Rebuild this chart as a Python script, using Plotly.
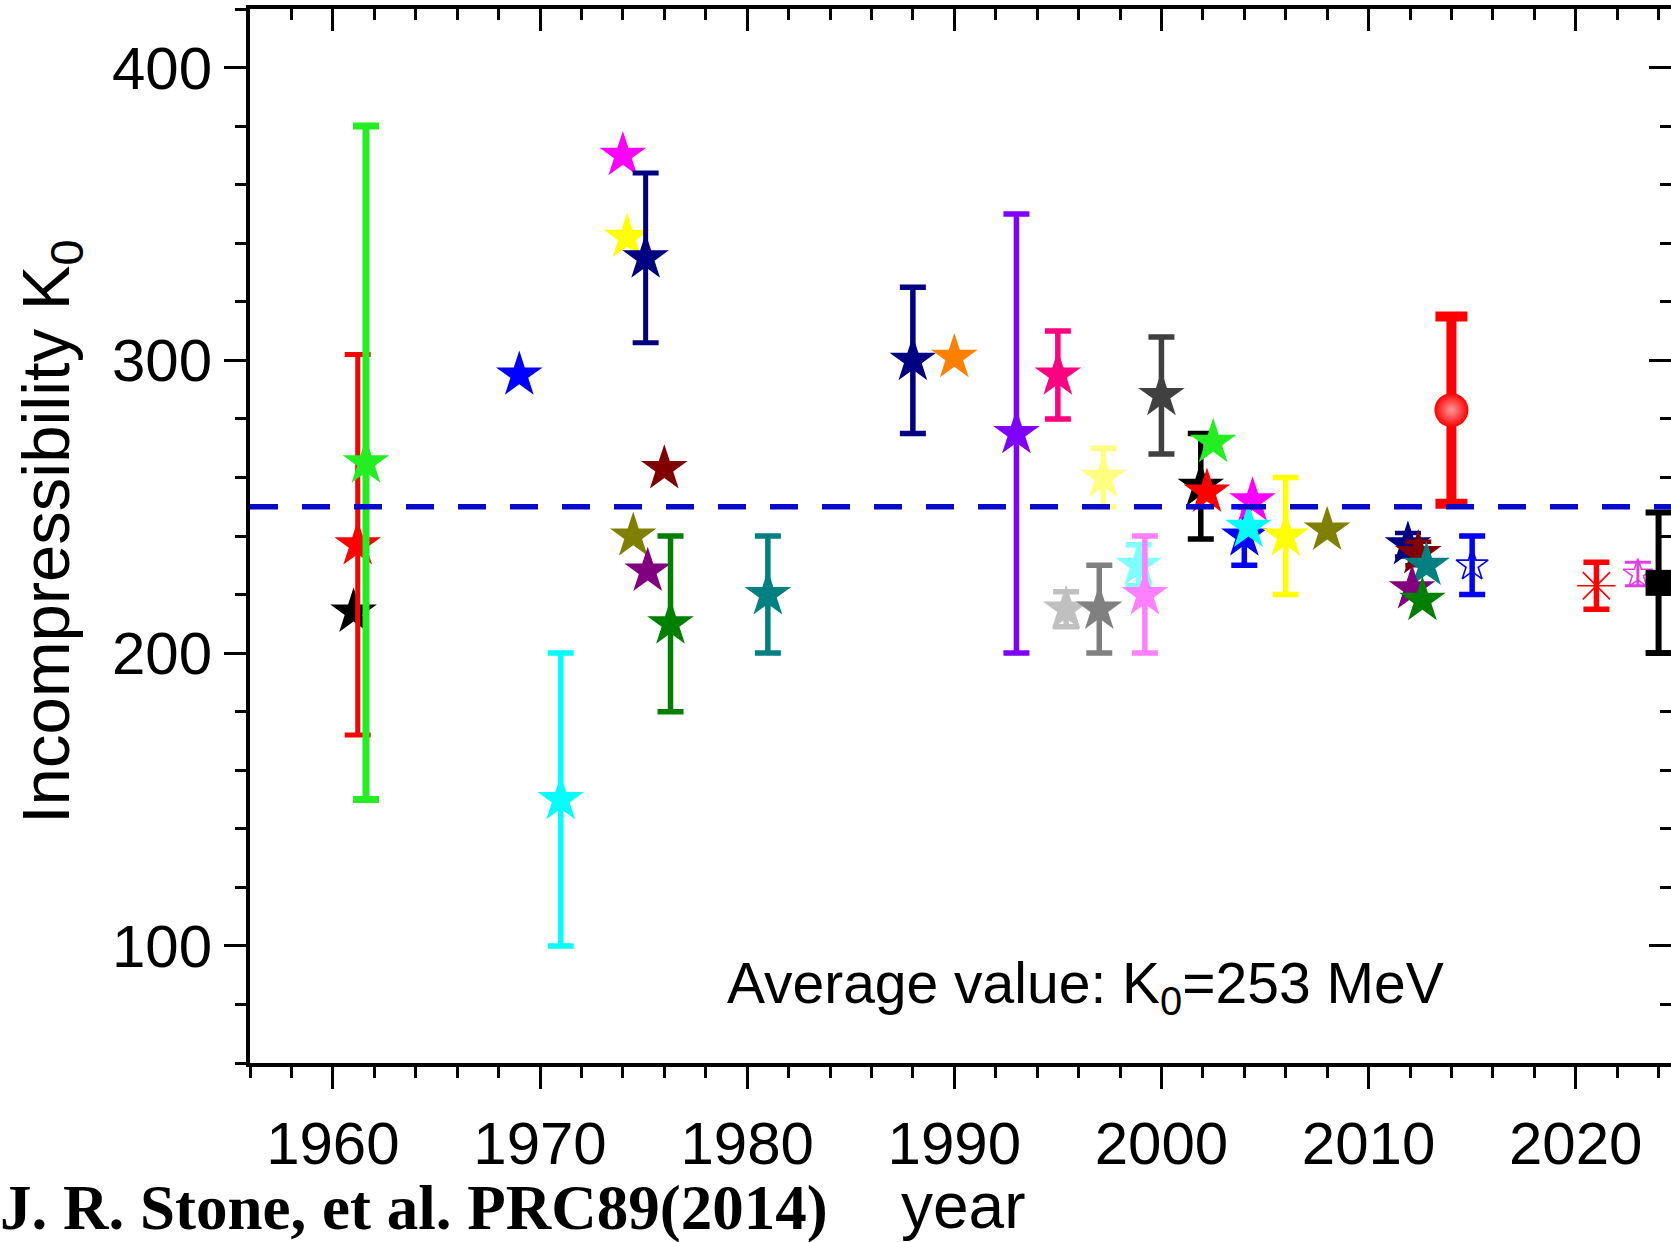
import plotly.graph_objects as go

# ---------------- data ----------------
YEARS = [1961.0, 1961.2, 1961.6, 1969.0, 1971.0, 1974.0, 1974.2, 1975.1, 1974.5, 1975.2,
         1976.0, 1976.3, 1981.0, 1988.0, 1990.0, 1993.0, 1995.0, 1997.2, 2000.0, 1995.4,
         1997.0, 1998.9, 1999.2, 2001.9, 2002.2, 2002.5, 2004.0, 2004.4, 2004.2, 2006.0,
         2008.0, 2011.9, 2012.4, 2012.8, 2012.1, 2012.6, 2014.0, 2015.0, 2021.0, 2023.0,
         2024.0]
K0 = [214, 237, 265, 295, 150, 370, 342, 335, 240, 228,
      263, 210, 220, 300, 301, 275, 295, 260, 288, 215,
      215, 230, 220, 257, 255, 272, 240, 252, 243, 240,
      242, 237, 234, 230, 222, 218, 283, 230, 223, 227,
      224]
K0_ERR = [0, 65, 115, 0, 50, 0, 0, 29, 0, 0,
          0, 30, 20, 25, 0, 75, 15, 10, 20, 6,
          15, 7, 20, 18, 0, 0, 10, 0, 0, 20,
          0, 4, 4, 0, 0, 0, 32, 10, 8, 4,
          24]
AVG_LINE_K0 = 250
AVG_LABEL = "Average value: K<sub>0</sub>=253 MeV"
X_TICKS = [1960, 1970, 1980, 1990, 2000, 2010, 2020]
Y_TICKS = [100, 200, 300, 400]
X_RANGE = [1956, 2024.6]
Y_RANGE = [60, 420]

# ---------------- styles (one per point): colour, symbol, size, bar thickness ----------------
STAR = "star"
S = 35
STYLES = [
    ("#000000", STAR, S, 5), ("#FF0000", STAR, S, 5), ("#22EE22", STAR, S, 7),
    ("#0000FF", STAR, S, 5), ("#00FFFF", STAR, S, 5.5), ("#FF00FF", STAR, S, 5),
    ("#FFFF00", STAR, S, 5), ("#000080", STAR, S, 5), ("#808000", STAR, S, 5),
    ("#800080", STAR, S, 5), ("#800000", STAR, S, 5), ("#008000", STAR, S, 5.5),
    ("#008080", STAR, S, 5.5), ("#000080", STAR, S, 5.5), ("#FF8000", STAR, S, 5),
    ("#8000FF", STAR, S, 5.5), ("#FF0080", STAR, S, 5.5), ("#FFFF80", STAR, S, 5.5),
    ("#404040", STAR, S, 5.5), ("#C0C0C0", STAR, S, 5.5), ("#808080", STAR, S, 5.5),
    ("#80FFFF", STAR, S, 5.5), ("#FF80FF", STAR, S, 5.5), ("#000000", STAR, S, 5.5),
    ("#FF0000", STAR, S, 5), ("#22EE22", STAR, S, 5), ("#0000FF", STAR, S, 5.5),
    ("#FF00FF", STAR, S, 5), ("#00FFFF", STAR, S, 5), ("#FFFF00", STAR, S, 5.5),
    ("#808000", STAR, S, 5), ("#000080", STAR, S, 4.5), ("#800000", STAR, S, 4.5),
    ("#008080", STAR, S, 5), ("#800080", STAR, S, 5), ("#008000", STAR, S, 5),
    ("#FF0000", "circle", 34, 10), ("#0000FF", "star-open", 24, 5.5), ("#FF0000", "asterisk-open", 32, 5.5),
    ("#E040E0", "star-open", 22, 3), ("#000000", "square", 26, 6),
]

W, H = 1671, 1242
PL, PT, PB = 250, 9, 1063
PR = W


def px(xp):
    return (xp - PL) / (PR - PL)


def py(yp):
    return (PB - yp) / (PB - PT)


fig = go.Figure()

for xv, yv, ev, (col, sym, size, bw) in zip(YEARS, K0, K0_ERR, STYLES):
    marker = dict(color=col, symbol=sym, size=size, line=dict(width=0))
    if sym.endswith("open"):
        marker["line"] = dict(width=1.6, color=col)
    if sym == "circle":
        marker["gradient"] = dict(type="radial", color="#ff9a9a")
        marker["line"] = dict(width=0)
    fig.add_trace(go.Scatter(
        x=[xv], y=[yv], mode="markers", marker=marker, cliponaxis=False,
        error_y=dict(type="data", array=[ev], visible=ev > 0, color=col,
                     thickness=bw, width=13 if sym != "circle" else 16),
        showlegend=False, hoverinfo="x+y",
    ))

# dummy (invisible) trace so that the mirrored top/right axes are drawn
fig.add_trace(go.Scatter(x=[YEARS[0]], y=[K0[0]], xaxis="x2", yaxis="y2", mode="markers",
                         marker=dict(opacity=0), showlegend=False, hoverinfo="skip"))

fig.add_shape(type="line", xref="paper", yref="y", x0=0, x1=1,
              y0=AVG_LINE_K0, y1=AVG_LINE_K0, layer="above",
              line=dict(color="#0A0ACD", width=5.5, dash="28px,24px"))

FONT = "Arial, Liberation Sans, sans-serif"
axis_common = dict(showgrid=False, zeroline=False, linecolor="black", linewidth=4,
                   tickcolor="black", tickwidth=3, ticklen=22)

fig.update_layout(
    width=W, height=H, margin=dict(l=PL, r=W - PR, t=PT, b=H - PB),
    paper_bgcolor="white", plot_bgcolor="white",
    font=dict(family=FONT, color="black"),
    xaxis=dict(range=X_RANGE, tickvals=X_TICKS, ticks="outside", showline=True,
               tickfont=dict(size=60, family=FONT), ticklabelstandoff=3,
               minor=dict(dtick=2, ticks="outside", ticklen=11, tickwidth=3, tickcolor="black"),
               **axis_common),
    xaxis2=dict(range=X_RANGE, overlaying="x", side="top", anchor="y", tickvals=X_TICKS,
                ticks="inside", showline=True, showticklabels=False,
                minor=dict(dtick=2, ticks="inside", ticklen=11, tickwidth=3, tickcolor="black"),
                **axis_common),
    yaxis=dict(range=Y_RANGE, tickvals=Y_TICKS, ticks="outside", showline=True,
               tickfont=dict(size=60, family=FONT),
               minor=dict(dtick=20, tick0=0, ticks="outside", ticklen=11, tickwidth=3, tickcolor="black"),
               **axis_common),
    yaxis2=dict(range=Y_RANGE, overlaying="y", side="right", anchor="x", tickvals=Y_TICKS,
                ticks="inside", showline=False, showticklabels=False,
                minor=dict(dtick=20, tick0=0, ticks="inside", ticklen=11, tickwidth=3, tickcolor="black"),
                **axis_common),
)

fig.add_annotation(text=AVG_LABEL, xref="paper", yref="paper", x=px(1085), y=py(987),
                   xanchor="center", yanchor="middle", showarrow=False,
                   font=dict(size=57, family=FONT, color="black"))
fig.add_annotation(text="Incompressibility K<sub>0</sub>", xref="paper", yref="paper",
                   x=px(50), y=py(532), xanchor="center", yanchor="middle", textangle=-90,
                   showarrow=False, font=dict(size=67, family=FONT, color="black"))
fig.add_annotation(text="year", xref="paper", yref="paper", x=px(963), y=py(1244),
                   xanchor="center", yanchor="bottom", showarrow=False,
                   font=dict(size=64, family=FONT, color="black"))
fig.add_annotation(text="<b>J. R. Stone, et al. PRC89(2014)</b>", xref="paper", yref="paper",
                   x=px(-2), y=py(1208), xanchor="left", yanchor="middle", showarrow=False,
                   font=dict(size=63, family="Times New Roman, Liberation Serif, serif", color="black"))

fig.write_html("out.html")
